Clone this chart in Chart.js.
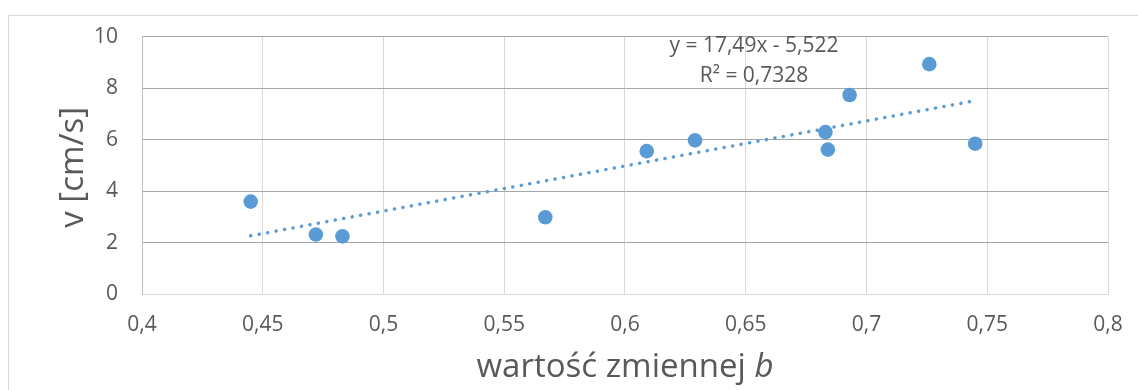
<!DOCTYPE html>
<html>
<head>
<meta charset="utf-8">
<script src="https://cdn.jsdelivr.net/npm/chart.js@4.4.0/dist/chart.umd.min.js"></script>
<style>
  body { margin: 0; background: #fff; }
  #wrap { width: 1138px; height: 390px; position: relative; }
</style>
</head>
<body>
<div id="wrap"><canvas id="wykres"></canvas></div>
<script>
// dane
var xValues = [0.445, 0.472, 0.483, 0.567, 0.609, 0.629, 0.683, 0.684, 0.693, 0.726, 0.745];
var yValues = [3.59, 2.31, 2.24, 2.98, 5.55, 5.97, 6.29, 5.61, 7.73, 8.93, 5.84];

// linia trendu (koniec i poczatek)
var trendX = [0.445, 0.745];
var trendY = [2.26, 7.51];

var xTicks = [0.4, 0.45, 0.5, 0.55, 0.6, 0.65, 0.7, 0.75, 0.8];
var xTickLabels = ["0,4", "0,45", "0,5", "0,55", "0,6", "0,65", "0,7", "0,75", "0,8"];
var yTicks = [0, 2, 4, 6, 8, 10];
var yTickLabels = ["0", "2", "4", "6", "8", "10"];

var equationLines = ["y = 17,49x - 5,522", "R\u00B2 = 0,7328"];

var niebieski = "#5b9bd5";
var szary = "#595959";

var punkty = xValues.map(function (x, i) { return { x: x, y: yValues[i] }; });
var trend = trendX.map(function (x, i) { return { x: x, y: trendY[i] }; });

// ramka, tytuly osi i rownanie
var dodatki = {
  id: "dodatki",
  beforeDraw: function (chart) {
    var ctx = chart.ctx;
    ctx.save();
    ctx.fillStyle = "#fff";
    ctx.fillRect(0, 0, chart.width, chart.height);
    ctx.strokeStyle = "#d9d9d9";
    ctx.lineWidth = 1;
    ctx.strokeRect(8.5, 15.5, chart.width + 20, chart.height + 20);
    ctx.restore();
  },
  afterDraw: function (chart) {
    var ctx = chart.ctx;
    var area = chart.chartArea;
    ctx.save();
    ctx.fillStyle = szary;

    // tytul osi X z kursywa b
    var normal = "33px 'Open Sans'";
    var kursywa = "italic 33px 'Open Sans'";
    var t1 = "warto\u015B\u0107 zmiennej ";
    var t2 = "b";
    ctx.font = normal;
    var w1 = ctx.measureText(t1).width;
    ctx.font = kursywa;
    var w2 = ctx.measureText(t2).width;
    var start = (area.left + area.right) / 2 - (w1 + w2) / 2;
    ctx.textAlign = "left";
    ctx.textBaseline = "alphabetic";
    ctx.font = normal;
    ctx.fillText(t1, start, 377);
    ctx.font = kursywa;
    ctx.fillText(t2, start + w1, 377);

    // tytul osi Y
    ctx.save();
    ctx.translate(83, (area.top + area.bottom) / 2 + 2);
    ctx.rotate(-Math.PI / 2);
    ctx.font = normal;
    ctx.textAlign = "center";
    ctx.fillText("v [cm/s]", 0, 0);
    ctx.restore();

    // rownanie trendu
    ctx.font = "21px 'Open Sans'";
    ctx.textAlign = "center";
    ctx.fillText(equationLines[0], 754, 52);
    ctx.fillText(equationLines[1], 754, 82);
    ctx.restore();
  }
};

const config = {
  type: "scatter",
  data: {
    datasets: [
      {
        type: "line",
        label: "trend",
        data: trend,
        borderColor: niebieski,
        borderWidth: 3.5,
        borderDash: [0.1, 8.5],
        borderCapStyle: "round",
        pointRadius: 0,
        fill: false,
        order: 0
      },
      {
        label: "v",
        data: punkty,
        backgroundColor: niebieski,
        borderWidth: 0,
        pointRadius: 7.3,
        pointHoverRadius: 7.3,
        order: 1
      }
    ]
  },
  options: {
    responsive: true,
    maintainAspectRatio: false,
    animation: false,
    layout: { padding: { left: 0, top: 36, right: 30, bottom: 0 } },
    plugins: {
      legend: { display: false },
      tooltip: { enabled: false }
    },
    scales: {
      x: {
        type: "linear",
        min: 0.4,
        max: 0.8,
        afterBuildTicks: function (scale) {
          scale.ticks = xTicks.map(function (v) { return { value: v }; });
        },
        afterFit: function (scale) {
          scale.height = 96;
          scale.paddingRight = 0;
        },
        ticks: {
          color: szary,
          font: { family: "'Open Sans'", size: 21 },
          padding: 18,
          maxRotation: 0,
          autoSkip: false,
          callback: function (value, index) { return xTickLabels[index]; }
        },
        grid: { color: "#d9d9d9", lineWidth: 1, drawTicks: false },
        border: { color: "#d9d9d9", width: 1 }
      },
      y: {
        type: "linear",
        min: 0,
        max: 10,
        afterBuildTicks: function (scale) {
          scale.ticks = yTicks.map(function (v) { return { value: v }; });
        },
        afterFit: function (scale) { scale.width = 142; },
        ticks: {
          color: szary,
          font: { family: "'Open Sans'", size: 21 },
          padding: 24,
          callback: function (value, index) { return yTickLabels[index]; }
        },
        grid: {
          color: function (c) { return c.tick && c.tick.value === 0 ? "#d9d9d9" : "#a6a6a6"; },
          lineWidth: 1,
          drawTicks: false
        },
        border: { color: "#bfbfbf", width: 1 }
      }
    }
  },
  plugins: [dodatki]
};

var wykres = new Chart(document.getElementById("wykres"), config);
</script>
</body>
</html>
